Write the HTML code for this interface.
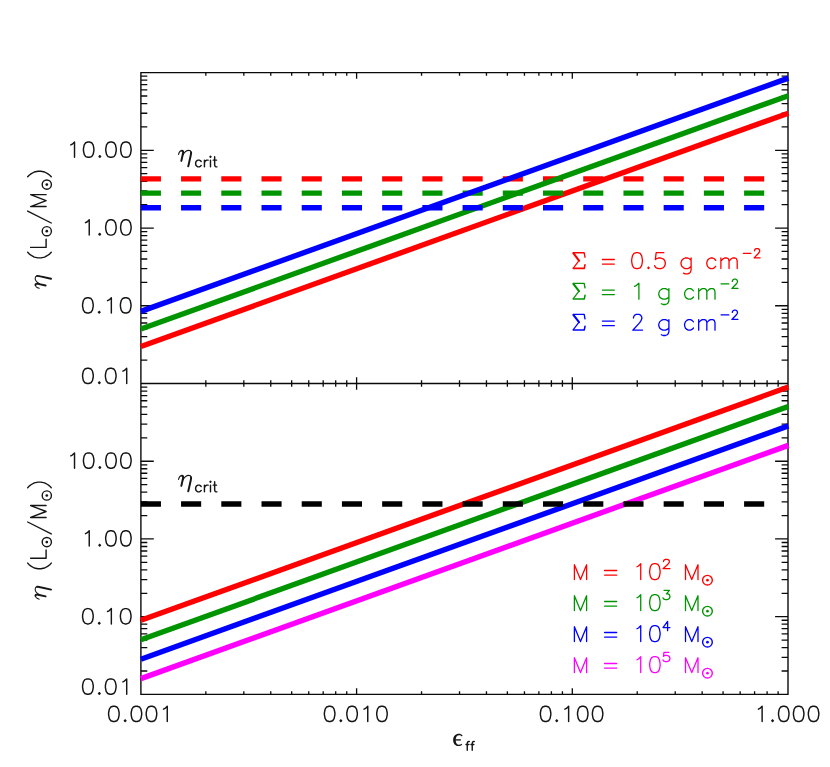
<!DOCTYPE html>
<html>
<head>
<meta charset="utf-8">
<title>eta vs eps_ff</title>
<style>
html,body{margin:0;padding:0;background:#ffffff;}
body{width:830px;height:767px;overflow:hidden;font-family:"Liberation Sans",sans-serif;}
svg{display:block;}
</style>
</head>
<body>
<svg width="830" height="767" viewBox="0 0 830 767">
<rect x="0" y="0" width="830" height="767" fill="#ffffff"/>
<path d="M205.83 72.60v3.20M205.83 380.30v6.40M205.83 694.40v-3.20M243.82 72.60v3.20M243.82 380.30v6.40M243.82 694.40v-3.20M270.76 72.60v3.20M270.76 380.30v6.40M270.76 694.40v-3.20M291.67 72.60v3.20M291.67 380.30v6.40M291.67 694.40v-3.20M308.75 72.60v3.20M308.75 380.30v6.40M308.75 694.40v-3.20M323.19 72.60v3.20M323.19 380.30v6.40M323.19 694.40v-3.20M335.70 72.60v3.20M335.70 380.30v6.40M335.70 694.40v-3.20M346.73 72.60v3.20M346.73 380.30v6.40M346.73 694.40v-3.20M356.60 72.60v6.20M356.60 377.30v12.40M356.60 694.40v-6.20M421.53 72.60v3.20M421.53 380.30v6.40M421.53 694.40v-3.20M459.52 72.60v3.20M459.52 380.30v6.40M459.52 694.40v-3.20M486.46 72.60v3.20M486.46 380.30v6.40M486.46 694.40v-3.20M507.37 72.60v3.20M507.37 380.30v6.40M507.37 694.40v-3.20M524.45 72.60v3.20M524.45 380.30v6.40M524.45 694.40v-3.20M538.89 72.60v3.20M538.89 380.30v6.40M538.89 694.40v-3.20M551.40 72.60v3.20M551.40 380.30v6.40M551.40 694.40v-3.20M562.43 72.60v3.20M562.43 380.30v6.40M562.43 694.40v-3.20M572.30 72.60v6.20M572.30 377.30v12.40M572.30 694.40v-6.20M637.23 72.60v3.20M637.23 380.30v6.40M637.23 694.40v-3.20M675.22 72.60v3.20M675.22 380.30v6.40M675.22 694.40v-3.20M702.16 72.60v3.20M702.16 380.30v6.40M702.16 694.40v-3.20M723.07 72.60v3.20M723.07 380.30v6.40M723.07 694.40v-3.20M740.15 72.60v3.20M740.15 380.30v6.40M740.15 694.40v-3.20M754.59 72.60v3.20M754.59 380.30v6.40M754.59 694.40v-3.20M767.10 72.60v3.20M767.10 380.30v6.40M767.10 694.40v-3.20M778.13 72.60v3.20M778.13 380.30v6.40M778.13 694.40v-3.20M140.90 150.32h12.90M788.00 150.32h-12.90M140.90 126.93h6.40M788.00 126.93h-6.40M140.90 113.24h6.40M788.00 113.24h-6.40M140.90 103.53h6.40M788.00 103.53h-6.40M140.90 96.00h6.40M788.00 96.00h-6.40M140.90 89.84h6.40M788.00 89.84h-6.40M140.90 84.64h6.40M788.00 84.64h-6.40M140.90 80.13h6.40M788.00 80.13h-6.40M140.90 76.16h6.40M788.00 76.16h-6.40M140.90 228.05h12.90M788.00 228.05h-12.90M140.90 204.65h6.40M788.00 204.65h-6.40M140.90 190.97h6.40M788.00 190.97h-6.40M140.90 181.25h6.40M788.00 181.25h-6.40M140.90 173.72h6.40M788.00 173.72h-6.40M140.90 167.57h6.40M788.00 167.57h-6.40M140.90 162.36h6.40M788.00 162.36h-6.40M140.90 157.86h6.40M788.00 157.86h-6.40M140.90 153.88h6.40M788.00 153.88h-6.40M140.90 305.77h12.90M788.00 305.77h-12.90M140.90 282.38h6.40M788.00 282.38h-6.40M140.90 268.69h6.40M788.00 268.69h-6.40M140.90 258.98h6.40M788.00 258.98h-6.40M140.90 251.45h6.40M788.00 251.45h-6.40M140.90 245.29h6.40M788.00 245.29h-6.40M140.90 240.09h6.40M788.00 240.09h-6.40M140.90 235.58h6.40M788.00 235.58h-6.40M140.90 231.61h6.40M788.00 231.61h-6.40M140.90 360.10h6.40M788.00 360.10h-6.40M140.90 346.42h6.40M788.00 346.42h-6.40M140.90 336.70h6.40M788.00 336.70h-6.40M140.90 329.17h6.40M788.00 329.17h-6.40M140.90 323.02h6.40M788.00 323.02h-6.40M140.90 317.81h6.40M788.00 317.81h-6.40M140.90 313.31h6.40M788.00 313.31h-6.40M140.90 309.33h6.40M788.00 309.33h-6.40M140.90 461.23h12.90M788.00 461.23h-12.90M140.90 437.83h6.40M788.00 437.83h-6.40M140.90 424.14h6.40M788.00 424.14h-6.40M140.90 414.43h6.40M788.00 414.43h-6.40M140.90 406.90h6.40M788.00 406.90h-6.40M140.90 400.74h6.40M788.00 400.74h-6.40M140.90 395.54h6.40M788.00 395.54h-6.40M140.90 391.03h6.40M788.00 391.03h-6.40M140.90 387.06h6.40M788.00 387.06h-6.40M140.90 538.95h12.90M788.00 538.95h-12.90M140.90 515.55h6.40M788.00 515.55h-6.40M140.90 501.87h6.40M788.00 501.87h-6.40M140.90 492.15h6.40M788.00 492.15h-6.40M140.90 484.62h6.40M788.00 484.62h-6.40M140.90 478.47h6.40M788.00 478.47h-6.40M140.90 473.26h6.40M788.00 473.26h-6.40M140.90 468.76h6.40M788.00 468.76h-6.40M140.90 464.78h6.40M788.00 464.78h-6.40M140.90 616.67h12.90M788.00 616.67h-12.90M140.90 593.28h6.40M788.00 593.28h-6.40M140.90 579.59h6.40M788.00 579.59h-6.40M140.90 569.88h6.40M788.00 569.88h-6.40M140.90 562.35h6.40M788.00 562.35h-6.40M140.90 556.19h6.40M788.00 556.19h-6.40M140.90 550.99h6.40M788.00 550.99h-6.40M140.90 546.48h6.40M788.00 546.48h-6.40M140.90 542.51h6.40M788.00 542.51h-6.40M140.90 671.00h6.40M788.00 671.00h-6.40M140.90 657.32h6.40M788.00 657.32h-6.40M140.90 647.60h6.40M788.00 647.60h-6.40M140.90 640.07h6.40M788.00 640.07h-6.40M140.90 633.92h6.40M788.00 633.92h-6.40M140.90 628.71h6.40M788.00 628.71h-6.40M140.90 624.21h6.40M788.00 624.21h-6.40M140.90 620.23h6.40M788.00 620.23h-6.40" fill="none" stroke="#0a0a0a" stroke-width="1.3" stroke-linecap="butt"/>
<path d="M140.90 72.60H788.00V694.40H140.90ZM140.90 383.50H788.00" fill="none" stroke="#0a0a0a" stroke-width="1.4" stroke-linejoin="miter"/>
<line x1="140.90" y1="346.50" x2="788.30" y2="113.22" stroke="#ff0000" stroke-width="5.40" stroke-linecap="butt"/>
<line x1="140.85" y1="178.90" x2="764.20" y2="178.90" stroke="#ff0000" stroke-width="5.4" stroke-dasharray="20.1 20.116"/>
<line x1="140.90" y1="329.00" x2="788.30" y2="95.72" stroke="#009500" stroke-width="5.40" stroke-linecap="butt"/>
<line x1="140.85" y1="193.10" x2="764.20" y2="193.10" stroke="#009500" stroke-width="5.4" stroke-dasharray="20.1 20.116"/>
<line x1="140.90" y1="311.40" x2="788.30" y2="78.12" stroke="#0000ff" stroke-width="5.40" stroke-linecap="butt"/>
<line x1="140.85" y1="207.70" x2="764.20" y2="207.70" stroke="#0000ff" stroke-width="5.4" stroke-dasharray="20.1 20.116"/>
<line x1="140.90" y1="620.30" x2="788.30" y2="387.02" stroke="#ff0000" stroke-width="5.40" stroke-linecap="butt"/>
<line x1="140.90" y1="639.74" x2="788.30" y2="406.46" stroke="#009500" stroke-width="5.40" stroke-linecap="butt"/>
<line x1="140.90" y1="659.18" x2="788.30" y2="425.90" stroke="#0000ff" stroke-width="5.40" stroke-linecap="butt"/>
<line x1="140.90" y1="678.62" x2="788.30" y2="445.34" stroke="#ff00ff" stroke-width="5.40" stroke-linecap="butt"/>
<line x1="140.85" y1="504.00" x2="764.20" y2="504.00" stroke="#000000" stroke-width="5.4" stroke-dasharray="20.1 20.116"/>
<path d="M70.80 144.92L72.29 144.20L74.52 142.01L74.52 157.30M87.92 142.01L85.69 142.74L84.20 144.92L83.46 148.56L83.46 150.75L84.20 154.39L85.69 156.57L87.92 157.30L89.41 157.30L91.64 156.57L93.13 154.39L93.88 150.75L93.88 148.56L93.13 144.92L91.64 142.74L89.41 142.01L87.92 142.01M99.83 155.84L99.09 156.57L99.83 157.30L100.58 156.57L99.83 155.84M110.26 142.01L108.02 142.74L106.53 144.92L105.79 148.56L105.79 150.75L106.53 154.39L108.02 156.57L110.26 157.30L111.74 157.30L113.98 156.57L115.47 154.39L116.21 150.75L116.21 148.56L115.47 144.92L113.98 142.74L111.74 142.01L110.26 142.01M125.14 142.01L122.91 142.74L121.42 144.92L120.68 148.56L120.68 150.75L121.42 154.39L122.91 156.57L125.14 157.30L126.63 157.30L128.87 156.57L130.36 154.39L131.10 150.75L131.10 148.56L130.36 144.92L128.87 142.74L126.63 142.01L125.14 142.01M85.50 222.72L87.00 222.00L89.24 219.81L89.24 235.10M99.70 233.64L98.96 234.37L99.70 235.10L100.45 234.37L99.70 233.64M110.17 219.81L107.93 220.54L106.43 222.72L105.68 226.36L105.68 228.55L106.43 232.19L107.93 234.37L110.17 235.10L111.66 235.10L113.91 234.37L115.40 232.19L116.15 228.55L116.15 226.36L115.40 222.72L113.91 220.54L111.66 219.81L110.17 219.81M125.12 219.81L122.88 220.54L121.38 222.72L120.63 226.36L120.63 228.55L121.38 232.19L122.88 234.37L125.12 235.10L126.61 235.10L128.86 234.37L130.35 232.19L131.10 228.55L131.10 226.36L130.35 222.72L128.86 220.54L126.61 219.81L125.12 219.81M87.14 297.71L84.87 298.44L83.36 300.62L82.60 304.26L82.60 306.45L83.36 310.09L84.87 312.27L87.14 313.00L88.65 313.00L90.92 312.27L92.43 310.09L93.19 306.45L93.19 304.26L92.43 300.62L90.92 298.44L88.65 297.71L87.14 297.71M99.24 311.54L98.48 312.27L99.24 313.00L99.99 312.27L99.24 311.54M107.56 300.62L109.07 299.90L111.34 297.71L111.34 313.00M124.95 297.71L122.68 298.44L121.17 300.62L120.41 304.26L120.41 306.45L121.17 310.09L122.68 312.27L124.95 313.00L126.46 313.00L128.73 312.27L130.24 310.09L131.00 306.45L131.00 304.26L130.24 300.62L128.73 298.44L126.46 297.71L124.95 297.71M70.80 455.82L72.29 455.10L74.52 452.91L74.52 468.20M87.92 452.91L85.69 453.64L84.20 455.82L83.46 459.46L83.46 461.65L84.20 465.29L85.69 467.47L87.92 468.20L89.41 468.20L91.64 467.47L93.13 465.29L93.88 461.65L93.88 459.46L93.13 455.82L91.64 453.64L89.41 452.91L87.92 452.91M99.83 466.74L99.09 467.47L99.83 468.20L100.58 467.47L99.83 466.74M110.26 452.91L108.02 453.64L106.53 455.82L105.79 459.46L105.79 461.65L106.53 465.29L108.02 467.47L110.26 468.20L111.74 468.20L113.98 467.47L115.47 465.29L116.21 461.65L116.21 459.46L115.47 455.82L113.98 453.64L111.74 452.91L110.26 452.91M125.14 452.91L122.91 453.64L121.42 455.82L120.68 459.46L120.68 461.65L121.42 465.29L122.91 467.47L125.14 468.20L126.63 468.20L128.87 467.47L130.36 465.29L131.10 461.65L131.10 459.46L130.36 455.82L128.87 453.64L126.63 452.91L125.14 452.91M85.50 533.62L87.00 532.90L89.24 530.71L89.24 546.00M99.70 544.54L98.96 545.27L99.70 546.00L100.45 545.27L99.70 544.54M110.17 530.71L107.93 531.44L106.43 533.62L105.68 537.26L105.68 539.45L106.43 543.09L107.93 545.27L110.17 546.00L111.66 546.00L113.91 545.27L115.40 543.09L116.15 539.45L116.15 537.26L115.40 533.62L113.91 531.44L111.66 530.71L110.17 530.71M125.12 530.71L122.88 531.44L121.38 533.62L120.63 537.26L120.63 539.45L121.38 543.09L122.88 545.27L125.12 546.00L126.61 546.00L128.86 545.27L130.35 543.09L131.10 539.45L131.10 537.26L130.35 533.62L128.86 531.44L126.61 530.71L125.12 530.71M87.14 608.61L84.87 609.34L83.36 611.52L82.60 615.16L82.60 617.35L83.36 620.99L84.87 623.17L87.14 623.90L88.65 623.90L90.92 623.17L92.43 620.99L93.19 617.35L93.19 615.16L92.43 611.52L90.92 609.34L88.65 608.61L87.14 608.61M99.24 622.44L98.48 623.17L99.24 623.90L99.99 623.17L99.24 622.44M107.56 611.52L109.07 610.80L111.34 608.61L111.34 623.90M124.95 608.61L122.68 609.34L121.17 611.52L120.41 615.16L120.41 617.35L121.17 620.99L122.68 623.17L124.95 623.90L126.46 623.90L128.73 623.17L130.24 620.99L131.00 617.35L131.00 615.16L130.24 611.52L128.73 609.34L126.46 608.61L124.95 608.61M87.16 368.21L84.88 368.94L83.36 371.12L82.60 374.76L82.60 376.95L83.36 380.59L84.88 382.77L87.16 383.50L88.68 383.50L90.96 382.77L92.48 380.59L93.24 376.95L93.24 374.76L92.48 371.12L90.96 368.94L88.68 368.21L87.16 368.21M99.33 382.04L98.57 382.77L99.33 383.50L100.09 382.77L99.33 382.04M109.97 368.21L107.69 368.94L106.17 371.12L105.41 374.76L105.41 376.95L106.17 380.59L107.69 382.77L109.97 383.50L111.49 383.50L113.77 382.77L115.29 380.59L116.06 376.95L116.06 374.76L115.29 371.12L113.77 368.94L111.49 368.21L109.97 368.21M122.90 371.12L124.42 370.40L126.70 368.21L126.70 383.50M87.16 678.91L84.88 679.64L83.36 681.82L82.60 685.46L82.60 687.65L83.36 691.29L84.88 693.47L87.16 694.20L88.68 694.20L90.96 693.47L92.48 691.29L93.24 687.65L93.24 685.46L92.48 681.82L90.96 679.64L88.68 678.91L87.16 678.91M99.33 692.74L98.57 693.47L99.33 694.20L100.09 693.47L99.33 692.74M109.97 678.91L107.69 679.64L106.17 681.82L105.41 685.46L105.41 687.65L106.17 691.29L107.69 693.47L109.97 694.20L111.49 694.20L113.77 693.47L115.29 691.29L116.06 687.65L116.06 685.46L115.29 681.82L113.77 679.64L111.49 678.91L109.97 678.91M122.90 681.82L124.42 681.10L126.70 678.91L126.70 694.20M113.11 706.21L110.86 706.94L109.35 709.12L108.60 712.76L108.60 714.95L109.35 718.59L110.86 720.77L113.11 721.50L114.62 721.50L116.87 720.77L118.38 718.59L119.13 714.95L119.13 712.76L118.38 709.12L116.87 706.94L114.62 706.21L113.11 706.21M125.14 720.04L124.39 720.77L125.14 721.50L125.89 720.77L125.14 720.04M135.67 706.21L133.41 706.94L131.91 709.12L131.16 712.76L131.16 714.95L131.91 718.59L133.41 720.77L135.67 721.50L137.17 721.50L139.43 720.77L140.93 718.59L141.68 714.95L141.68 712.76L140.93 709.12L139.43 706.94L137.17 706.21L135.67 706.21M150.71 706.21L148.45 706.94L146.95 709.12L146.20 712.76L146.20 714.95L146.95 718.59L148.45 720.77L150.71 721.50L152.21 721.50L154.47 720.77L155.97 718.59L156.72 714.95L156.72 712.76L155.97 709.12L154.47 706.94L152.21 706.21L150.71 706.21M163.49 709.12L164.99 708.40L167.25 706.21L167.25 721.50M328.89 706.21L326.64 706.94L325.15 709.12L324.40 712.76L324.40 714.95L325.15 718.59L326.64 720.77L328.89 721.50L330.38 721.50L332.62 720.77L334.12 718.59L334.87 714.95L334.87 712.76L334.12 709.12L332.62 706.94L330.38 706.21L328.89 706.21M340.85 720.04L340.10 720.77L340.85 721.50L341.60 720.77L340.85 720.04M351.31 706.21L349.07 706.94L347.58 709.12L346.83 712.76L346.83 714.95L347.58 718.59L349.07 720.77L351.31 721.50L352.81 721.50L355.05 720.77L356.55 718.59L357.30 714.95L357.30 712.76L356.55 709.12L355.05 706.94L352.81 706.21L351.31 706.21M364.02 709.12L365.52 708.40L367.76 706.21L367.76 721.50M381.22 706.21L378.98 706.94L377.48 709.12L376.73 712.76L376.73 714.95L377.48 718.59L378.98 720.77L381.22 721.50L382.71 721.50L384.96 720.77L386.45 718.59L387.20 714.95L387.20 712.76L386.45 709.12L384.96 706.94L382.71 706.21L381.22 706.21M544.86 706.21L542.63 706.94L541.14 709.12L540.40 712.76L540.40 714.95L541.14 718.59L542.63 720.77L544.86 721.50L546.34 721.50L548.57 720.77L550.06 718.59L550.80 714.95L550.80 712.76L550.06 709.12L548.57 706.94L546.34 706.21L544.86 706.21M556.74 720.04L556.00 720.77L556.74 721.50L557.49 720.77L556.74 720.04M564.91 709.12L566.40 708.40L568.63 706.21L568.63 721.50M582.00 706.21L579.77 706.94L578.29 709.12L577.54 712.76L577.54 714.95L578.29 718.59L579.77 720.77L582.00 721.50L583.49 721.50L585.71 720.77L587.20 718.59L587.94 714.95L587.94 712.76L587.20 709.12L585.71 706.94L583.49 706.21L582.00 706.21M596.86 706.21L594.63 706.94L593.14 709.12L592.40 712.76L592.40 714.95L593.14 718.59L594.63 720.77L596.86 721.50L598.34 721.50L600.57 720.77L602.06 718.59L602.80 714.95L602.80 712.76L602.06 709.12L600.57 706.94L598.34 706.21L596.86 706.21M758.40 709.12L759.89 708.40L762.13 706.21L762.13 721.50M772.57 720.04L771.82 720.77L772.57 721.50L773.31 720.77L772.57 720.04M783.01 706.21L780.77 706.94L779.28 709.12L778.53 712.76L778.53 714.95L779.28 718.59L780.77 720.77L783.01 721.50L784.50 721.50L786.74 720.77L788.23 718.59L788.97 714.95L788.97 712.76L788.23 709.12L786.74 706.94L784.50 706.21L783.01 706.21M797.92 706.21L795.68 706.94L794.19 709.12L793.45 712.76L793.45 714.95L794.19 718.59L795.68 720.77L797.92 721.50L799.41 721.50L801.65 720.77L803.14 718.59L803.89 714.95L803.89 712.76L803.14 709.12L801.65 706.94L799.41 706.21L797.92 706.21M812.83 706.21L810.60 706.94L809.11 709.12L808.36 712.76L808.36 714.95L809.11 718.59L810.60 720.77L812.83 721.50L814.33 721.50L816.56 720.77L818.05 718.59L818.80 714.95L818.80 712.76L818.05 709.12L816.56 706.94L814.33 706.21L812.83 706.21" fill="none" stroke="#151515" stroke-width="1.45" stroke-linecap="round" stroke-linejoin="round" />
<path d="M27.68 252.20L29.15 253.83L31.36 255.46L34.31 257.09L37.99 257.90L40.94 257.90L44.63 257.09L47.57 255.46L49.79 253.83L51.26 252.20M30.62 247.40L46.10 247.40L46.10 239.10M27.68 211.10L51.26 223.00M46.10 206.55L30.62 206.55L46.10 200.60L30.62 194.65L46.10 194.65M27.68 176.80L29.15 175.20L31.36 173.60L34.31 172.00L37.99 171.20L40.94 171.20L44.63 172.00L47.57 173.60L49.79 175.20L51.26 176.80" fill="none" stroke="#151515" stroke-width="1.40" stroke-linecap="round" stroke-linejoin="round" />
<circle cx="46.80" cy="231.20" r="4.60" fill="none" stroke="#151515" stroke-width="1.40"/>
<circle cx="46.80" cy="231.20" r="1.35" fill="#151515"/>
<circle cx="46.80" cy="184.60" r="4.60" fill="none" stroke="#151515" stroke-width="1.40"/>
<circle cx="46.80" cy="184.60" r="1.35" fill="#151515"/>
<g transform="translate(34.60 288.70) rotate(-90) scale(0.1390 0.1395)" fill="none" stroke="#151515" stroke-linecap="round" stroke-linejoin="round"><path d="M3 33 C7 18 17 6 27 6 M35 36 C45 17 61 4 75 4 C85 4 91 9 92 18" stroke-width="7.5"/><path d="M27 6 C35 6 37 14 35 25 L23 79 M92 18 C93 26 91 34 89 42 L72 118" stroke-width="14"/></g>
<path d="M27.68 563.10L29.15 564.73L31.36 566.36L34.31 567.99L37.99 568.80L40.94 568.80L44.63 567.99L47.57 566.36L49.79 564.73L51.26 563.10M30.62 558.30L46.10 558.30L46.10 550.00M27.68 522.00L51.26 533.90M46.10 517.45L30.62 517.45L46.10 511.50L30.62 505.55L46.10 505.55M27.68 487.70L29.15 486.10L31.36 484.50L34.31 482.90L37.99 482.10L40.94 482.10L44.63 482.90L47.57 484.50L49.79 486.10L51.26 487.70" fill="none" stroke="#151515" stroke-width="1.40" stroke-linecap="round" stroke-linejoin="round" />
<circle cx="46.80" cy="542.10" r="4.60" fill="none" stroke="#151515" stroke-width="1.40"/>
<circle cx="46.80" cy="542.10" r="1.35" fill="#151515"/>
<circle cx="46.80" cy="495.50" r="4.60" fill="none" stroke="#151515" stroke-width="1.40"/>
<circle cx="46.80" cy="495.50" r="1.35" fill="#151515"/>
<g transform="translate(34.60 599.60) rotate(-90) scale(0.1390 0.1395)" fill="none" stroke="#151515" stroke-linecap="round" stroke-linejoin="round"><path d="M3 33 C7 18 17 6 27 6 M35 36 C45 17 61 4 75 4 C85 4 91 9 92 18" stroke-width="7.5"/><path d="M27 6 C35 6 37 14 35 25 L23 79 M92 18 C93 26 91 34 89 42 L72 118" stroke-width="14"/></g>
<g transform="translate(178.10 149.80) scale(0.1410 0.1403)" fill="none" stroke="#151515" stroke-linecap="round" stroke-linejoin="round"><path d="M3 33 C7 18 17 6 27 6 M35 36 C45 17 61 4 75 4 C85 4 91 9 92 18" stroke-width="7.5"/><path d="M27 6 C35 6 37 14 35 25 L23 79 M92 18 C93 26 91 34 89 42 L72 118" stroke-width="14"/></g>
<path d="M201.19 161.57L200.27 160.61L199.34 160.13L197.95 160.13L197.02 160.61L196.09 161.57L195.62 163.01L195.62 163.97L196.09 165.41L197.02 166.37L197.95 166.85L199.34 166.85L200.27 166.37L201.19 165.41M204.44 160.13L204.44 166.85M204.44 163.01L204.91 161.57L205.84 160.61L206.76 160.13L208.16 160.13M210.01 156.77L210.48 157.25L210.94 156.77L210.48 156.29L210.01 156.77M210.48 160.13L210.48 166.85M214.65 156.77L214.65 164.93L215.12 166.37L216.05 166.85L216.97 166.85M213.26 160.13L216.51 160.13" fill="none" stroke="#151515" stroke-width="1.45" stroke-linecap="round" stroke-linejoin="round" />
<g transform="translate(178.10 474.80) scale(0.1410 0.1403)" fill="none" stroke="#151515" stroke-linecap="round" stroke-linejoin="round"><path d="M3 33 C7 18 17 6 27 6 M35 36 C45 17 61 4 75 4 C85 4 91 9 92 18" stroke-width="7.5"/><path d="M27 6 C35 6 37 14 35 25 L23 79 M92 18 C93 26 91 34 89 42 L72 118" stroke-width="14"/></g>
<path d="M201.19 486.57L200.27 485.61L199.34 485.13L197.95 485.13L197.02 485.61L196.09 486.57L195.62 488.01L195.62 488.97L196.09 490.41L197.02 491.37L197.95 491.85L199.34 491.85L200.27 491.37L201.19 490.41M204.44 485.13L204.44 491.85M204.44 488.01L204.91 486.57L205.84 485.61L206.76 485.13L208.16 485.13M210.01 481.77L210.48 482.25L210.94 481.77L210.48 481.29L210.01 481.77M210.48 485.13L210.48 491.85M214.65 481.77L214.65 489.93L215.12 491.37L216.05 491.85L216.97 491.85M213.26 485.13L216.51 485.13" fill="none" stroke="#151515" stroke-width="1.45" stroke-linecap="round" stroke-linejoin="round" />
<path d="M462.6 735.6 C461.6 734.5 460.4 733.85 459.0 733.85 C455.5 733.85 453.15 736.4 453.15 739.9 C453.15 743.5 455.3 746.0 458.7 746.0 C460.1 746.0 461.3 745.5 462.2 744.7 L461.7 743.8 C460.9 744.4 460.0 744.7 458.9 744.7 C456.9 744.7 455.7 742.7 455.7 739.9 C455.7 737.1 457.0 735.15 459.1 735.15 C460.2 735.15 461.2 735.6 461.9 736.4 Z" fill="#151515" stroke="none"/>
<path d="M455.2 739.9H460.9" fill="none" stroke="#151515" stroke-width="1.35" stroke-linecap="butt"/>
<path d="M469.32 741.53L468.49 741.53L467.66 741.95L467.25 743.21L467.25 750.35M466.00 744.47L468.91 744.47M474.30 741.53L473.47 741.53L472.64 741.95L472.23 743.21L472.23 750.35M470.98 744.47L473.88 744.47" fill="none" stroke="#151515" stroke-width="1.40" stroke-linecap="round" stroke-linejoin="round" />
<path d="M602.40 259.52L614.30 259.52M602.40 264.06L614.30 264.06M636.28 252.70L633.99 253.46L632.46 255.73L631.70 259.52L631.70 261.79L632.46 265.57L633.99 267.84L636.28 268.60L637.81 268.60L640.10 267.84L641.63 265.57L642.39 261.79L642.39 259.52L641.63 255.73L640.10 253.46L637.81 252.70L636.28 252.70M648.50 267.09L647.74 267.84L648.50 268.60L649.26 267.84L648.50 267.09M663.77 252.70L656.14 252.70L655.37 259.52L656.14 258.76L658.43 258.00L660.72 258.00L663.01 258.76L664.54 260.27L665.30 262.54L665.30 264.06L664.54 266.33L663.01 267.84L660.72 268.60L658.43 268.60L656.14 267.84L655.37 267.09L654.61 265.57M691.10 258.00L691.10 270.11L690.26 272.39L689.42 273.14L687.73 273.90L685.21 273.90L683.52 273.14M691.10 260.27L689.42 258.76L687.73 258.00L685.21 258.00L683.52 258.76L681.84 260.27L681.00 262.54L681.00 264.06L681.84 266.33L683.52 267.84L685.21 268.60L687.73 268.60L689.42 267.84L691.10 266.33M715.70 260.27L714.21 258.76L712.73 258.00L710.51 258.00L709.02 258.76L707.54 260.27L706.80 262.54L706.80 264.06L707.54 266.33L709.02 267.84L710.51 268.60L712.73 268.60L714.21 267.84L715.70 266.33M720.89 258.00L720.89 268.60M720.89 261.03L723.11 258.76L724.60 258.00L726.82 258.00L728.30 258.76L729.04 261.03L729.04 268.60M729.04 261.03L731.27 258.76L732.75 258.00L734.98 258.00L736.46 258.76L737.20 261.03L737.20 268.60M743.30 253.34L751.00 253.34M754.53 250.81L754.53 250.37L754.96 249.49L755.39 249.05L756.24 248.61L757.96 248.61L758.81 249.05L759.24 249.49L759.67 250.37L759.67 251.25L759.24 252.13L758.39 253.45L754.10 257.85L760.10 257.85" fill="none" stroke="#ff0000" stroke-width="1.30" stroke-linecap="round" stroke-linejoin="round" />
<g transform="translate(572.5 268.60)" fill="none" stroke="#ff0000" stroke-linecap="round" stroke-linejoin="round"><path d="M12.5 -11.4L11.7 -15.85H1.0" stroke-width="1.35"/><path d="M0.9 -15.4L6.5 -8.0" stroke-width="2.1"/><path d="M6.5 -8.0L0.8 -0.5" stroke-width="1.2"/><path d="M0.8 -0.25H11.8L12.5 -3.9" stroke-width="1.55"/></g>
<path d="M602.40 290.12L614.30 290.12M602.40 294.66L614.30 294.66M634.50 286.33L636.26 285.57L638.90 283.30L638.90 299.20M668.90 288.60L668.90 300.71L668.06 302.99L667.22 303.74L665.53 304.50L663.01 304.50L661.33 303.74M668.90 290.87L667.22 289.36L665.53 288.60L663.01 288.60L661.33 289.36L659.64 290.87L658.80 293.14L658.80 294.66L659.64 296.93L661.33 298.44L663.01 299.20L665.53 299.20L667.22 298.44L668.90 296.93M693.50 290.87L692.01 289.36L690.53 288.60L688.31 288.60L686.82 289.36L685.34 290.87L684.60 293.14L684.60 294.66L685.34 296.93L686.82 298.44L688.31 299.20L690.53 299.20L692.01 298.44L693.50 296.93M698.69 288.60L698.69 299.20M698.69 291.63L700.91 289.36L702.40 288.60L704.62 288.60L706.10 289.36L706.84 291.63L706.84 299.20M706.84 291.63L709.07 289.36L710.55 288.60L712.78 288.60L714.26 289.36L715.00 291.63L715.00 299.20M721.10 283.94L728.80 283.94M732.33 281.41L732.33 280.97L732.76 280.09L733.19 279.65L734.04 279.21L735.76 279.21L736.61 279.65L737.04 280.09L737.47 280.97L737.47 281.85L737.04 282.73L736.19 284.05L731.90 288.45L737.90 288.45" fill="none" stroke="#009500" stroke-width="1.30" stroke-linecap="round" stroke-linejoin="round" />
<g transform="translate(572.5 299.20)" fill="none" stroke="#009500" stroke-linecap="round" stroke-linejoin="round"><path d="M12.5 -11.4L11.7 -15.85H1.0" stroke-width="1.35"/><path d="M0.9 -15.4L6.5 -8.0" stroke-width="2.1"/><path d="M6.5 -8.0L0.8 -0.5" stroke-width="1.2"/><path d="M0.8 -0.25H11.8L12.5 -3.9" stroke-width="1.55"/></g>
<path d="M602.40 321.12L614.30 321.12M602.40 325.66L614.30 325.66M633.49 318.09L633.49 317.33L634.19 315.82L634.88 315.06L636.26 314.30L639.04 314.30L640.42 315.06L641.11 315.82L641.81 317.33L641.81 318.84L641.11 320.36L639.73 322.63L632.80 330.20L642.50 330.20M668.90 319.60L668.90 331.71L668.06 333.99L667.22 334.74L665.53 335.50L663.01 335.50L661.33 334.74M668.90 321.87L667.22 320.36L665.53 319.60L663.01 319.60L661.33 320.36L659.64 321.87L658.80 324.14L658.80 325.66L659.64 327.93L661.33 329.44L663.01 330.20L665.53 330.20L667.22 329.44L668.90 327.93M693.50 321.87L692.01 320.36L690.53 319.60L688.31 319.60L686.82 320.36L685.34 321.87L684.60 324.14L684.60 325.66L685.34 327.93L686.82 329.44L688.31 330.20L690.53 330.20L692.01 329.44L693.50 327.93M698.69 319.60L698.69 330.20M698.69 322.63L700.91 320.36L702.40 319.60L704.62 319.60L706.10 320.36L706.84 322.63L706.84 330.20M706.84 322.63L709.07 320.36L710.55 319.60L712.78 319.60L714.26 320.36L715.00 322.63L715.00 330.20M721.10 314.94L728.80 314.94M732.33 312.41L732.33 311.97L732.76 311.09L733.19 310.65L734.04 310.21L735.76 310.21L736.61 310.65L737.04 311.09L737.47 311.97L737.47 312.85L737.04 313.73L736.19 315.05L731.90 319.45L737.90 319.45" fill="none" stroke="#0000ff" stroke-width="1.30" stroke-linecap="round" stroke-linejoin="round" />
<g transform="translate(572.5 330.20)" fill="none" stroke="#0000ff" stroke-linecap="round" stroke-linejoin="round"><path d="M12.5 -11.4L11.7 -15.85H1.0" stroke-width="1.35"/><path d="M0.9 -15.4L6.5 -8.0" stroke-width="2.1"/><path d="M6.5 -8.0L0.8 -0.5" stroke-width="1.2"/><path d="M0.8 -0.25H11.8L12.5 -3.9" stroke-width="1.55"/></g>
<path d="M574.40 579.60L574.40 564.75L580.50 579.60L586.60 564.75L586.60 579.60M604.60 570.52L616.70 570.52M604.60 575.06L616.70 575.06M637.00 566.73L638.49 565.97L640.73 563.70L640.73 579.60M654.14 563.70L651.90 564.46L650.41 566.73L649.67 570.52L649.67 572.79L650.41 576.57L651.90 578.84L654.14 579.60L655.63 579.60L657.86 578.84L659.35 576.57L660.10 572.79L660.10 570.52L659.35 566.73L657.86 564.46L655.63 563.70L654.14 563.70M663.49 561.56L663.49 561.12L663.99 560.23L664.48 559.79L665.46 559.35L667.44 559.35L668.42 559.79L668.91 560.23L669.41 561.12L669.41 562.00L668.91 562.89L667.93 564.22L663.00 568.65L669.90 568.65M685.50 579.60L685.50 564.75L691.75 579.60L698.00 564.75L698.00 579.60" fill="none" stroke="#ff0000" stroke-width="1.30" stroke-linecap="round" stroke-linejoin="round" />
<circle cx="707.45" cy="580.20" r="4.85" fill="none" stroke="#ff0000" stroke-width="1.40"/>
<circle cx="707.45" cy="580.20" r="1.35" fill="#ff0000"/>
<path d="M574.40 610.60L574.40 595.75L580.50 610.60L586.60 595.75L586.60 610.60M604.60 601.52L616.70 601.52M604.60 606.06L616.70 606.06M637.00 597.73L638.49 596.97L640.73 594.70L640.73 610.60M654.14 594.70L651.90 595.46L650.41 597.73L649.67 601.52L649.67 603.79L650.41 607.57L651.90 609.84L654.14 610.60L655.63 610.60L657.86 609.84L659.35 607.57L660.10 603.79L660.10 601.52L659.35 597.73L657.86 595.46L655.63 594.70L654.14 594.70M663.99 590.35L669.41 590.35L666.45 593.89L667.93 593.89L668.91 594.33L669.41 594.78L669.90 596.11L669.90 596.99L669.41 598.32L668.42 599.21L666.94 599.65L665.46 599.65L663.99 599.21L663.49 598.76L663.00 597.88M685.50 610.60L685.50 595.75L691.75 610.60L698.00 595.75L698.00 610.60" fill="none" stroke="#009500" stroke-width="1.30" stroke-linecap="round" stroke-linejoin="round" />
<circle cx="707.45" cy="611.20" r="4.85" fill="none" stroke="#009500" stroke-width="1.40"/>
<circle cx="707.45" cy="611.20" r="1.35" fill="#009500"/>
<path d="M574.40 641.60L574.40 626.75L580.50 641.60L586.60 626.75L586.60 641.60M604.60 632.52L616.70 632.52M604.60 637.06L616.70 637.06M637.00 628.73L638.49 627.97L640.73 625.70L640.73 641.60M654.14 625.70L651.90 626.46L650.41 628.73L649.67 632.52L649.67 634.79L650.41 638.57L651.90 640.84L654.14 641.60L655.63 641.60L657.86 640.84L659.35 638.57L660.10 634.79L660.10 632.52L659.35 628.73L657.86 626.46L655.63 625.70L654.14 625.70M667.60 621.35L663.00 627.55L669.90 627.55M667.60 621.35L667.60 630.65M685.50 641.60L685.50 626.75L691.75 641.60L698.00 626.75L698.00 641.60" fill="none" stroke="#0000ff" stroke-width="1.30" stroke-linecap="round" stroke-linejoin="round" />
<circle cx="707.45" cy="642.20" r="4.85" fill="none" stroke="#0000ff" stroke-width="1.40"/>
<circle cx="707.45" cy="642.20" r="1.35" fill="#0000ff"/>
<path d="M574.40 672.60L574.40 657.75L580.50 672.60L586.60 657.75L586.60 672.60M604.60 663.52L616.70 663.52M604.60 668.06L616.70 668.06M637.00 659.73L638.49 658.97L640.73 656.70L640.73 672.60M654.14 656.70L651.90 657.46L650.41 659.73L649.67 663.52L649.67 665.79L650.41 669.57L651.90 671.84L654.14 672.60L655.63 672.60L657.86 671.84L659.35 669.57L660.10 665.79L660.10 663.52L659.35 659.73L657.86 657.46L655.63 656.70L654.14 656.70M668.91 652.35L663.99 652.35L663.49 656.33L663.99 655.89L665.46 655.45L666.94 655.45L668.42 655.89L669.41 656.78L669.90 658.11L669.90 658.99L669.41 660.32L668.42 661.21L666.94 661.65L665.46 661.65L663.99 661.21L663.49 660.76L663.00 659.88M685.50 672.60L685.50 657.75L691.75 672.60L698.00 657.75L698.00 672.60" fill="none" stroke="#ff00ff" stroke-width="1.30" stroke-linecap="round" stroke-linejoin="round" />
<circle cx="707.45" cy="673.20" r="4.85" fill="none" stroke="#ff00ff" stroke-width="1.40"/>
<circle cx="707.45" cy="673.20" r="1.35" fill="#ff00ff"/>
</svg>
</body>
</html>
